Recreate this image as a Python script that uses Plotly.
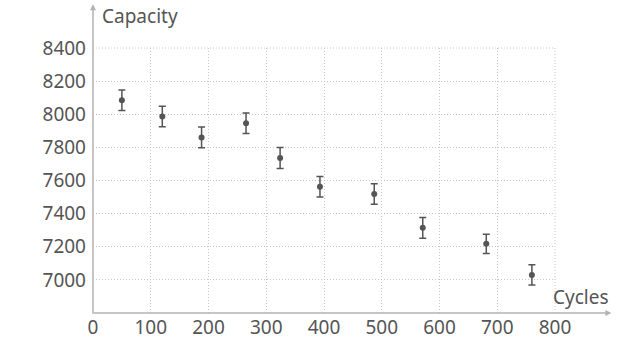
import plotly.graph_objects as go

cycles = [50, 120, 188, 265, 324, 393, 487, 571, 681, 760]
capacity = [8085, 7986, 7860, 7946, 7736, 7562, 7518, 7314, 7218, 7030]
error = [62, 62, 63, 62, 63, 62, 62, 62, 58, 61]
x_ticks = [0, 100, 200, 300, 400, 500, 600, 700, 800]
y_ticks = [7000, 7200, 7400, 7600, 7800, 8000, 8200, 8400]

TXT = "#555555"
AX = "#b3b3b3"
GRID = "#c8c8c8"
FONT = "Noto Sans"
DASH = "1px,2px"

fig = go.Figure(go.Scatter(
    x=cycles, y=capacity, mode="markers",
    marker=dict(size=6, color="#555555"),
    error_y=dict(type="data", array=error, visible=True, color="#555555",
                 thickness=1.5, width=3.5),
    showlegend=False,
))

fig.update_layout(
    width=627, height=352,
    margin=dict(l=93, r=71.5, t=48, b=37),
    plot_bgcolor="white", paper_bgcolor="white",
    font=dict(family=FONT, size=19, color=TXT),
    xaxis=dict(range=[0, 800], tickvals=x_ticks, showgrid=True, gridcolor=GRID,
               griddash=DASH, gridwidth=1, zeroline=False, showline=False,
               ticks="", ticklabelstandoff=1, tickfont=dict(size=19, color=TXT)),
    yaxis=dict(range=[6800, 8400], tickvals=y_ticks, showgrid=True, gridcolor=GRID,
               griddash=DASH, gridwidth=1, zeroline=False, showline=False,
               ticks="", ticklabelstandoff=6, tickfont=dict(size=19, color=TXT)),
)

# edge grid lines (800 and 8400)
fig.add_shape(type="line", xref="paper", yref="paper", x0=1, x1=1, y0=0, y1=1,
              line=dict(color=GRID, width=1, dash=DASH))
fig.add_shape(type="line", xref="paper", yref="paper", x0=0, x1=1, y0=1, y1=1,
              line=dict(color=GRID, width=1, dash=DASH))

# axis lines with arrows
fig.add_annotation(x=1.122, y=0, xref="paper", yref="paper", ax=-519, ay=0,
                   text="", showarrow=True, arrowhead=2, arrowsize=0.8,
                   arrowwidth=1.5, arrowcolor=AX)
fig.add_annotation(x=0, y=1.165, xref="paper", yref="paper", ax=0, ay=311,
                   text="", showarrow=True, arrowhead=2, arrowsize=0.8,
                   arrowwidth=1.5, arrowcolor=AX)

# axis titles
fig.add_annotation(x=1.122, y=0.06, xref="paper", yref="paper", text="Cycles",
                   showarrow=False, xanchor="right", yanchor="middle",
                   font=dict(family=FONT, size=19, color=TXT))
fig.add_annotation(x=0.015, y=1.12, xref="paper", yref="paper", text="Capacity",
                   showarrow=False, xanchor="left", yanchor="middle",
                   font=dict(family=FONT, size=19, color=TXT))

fig.write_html("out.html")
